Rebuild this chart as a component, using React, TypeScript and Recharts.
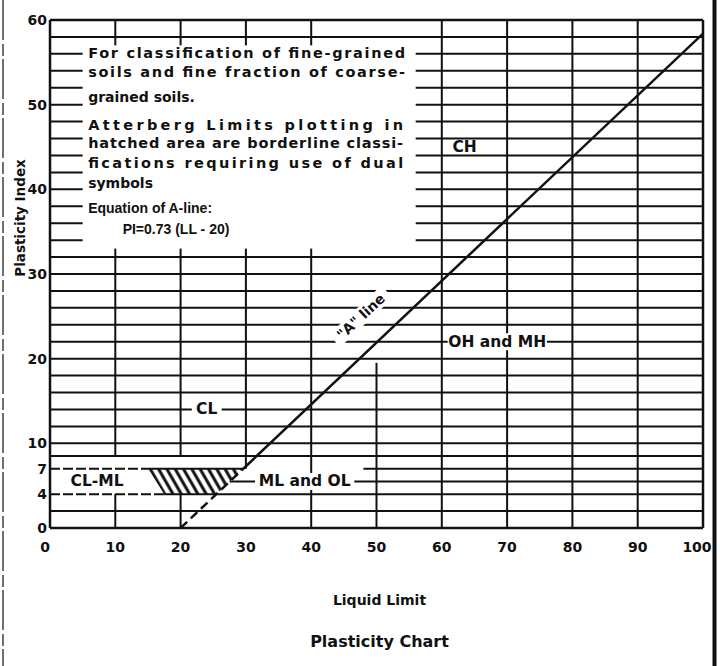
import React from 'react';
import {
  ComposedChart,
  XAxis,
  YAxis,
  Line,
  Area,
  ReferenceLine,
  ReferenceArea,
  ReferenceDot,
} from 'recharts';

const llTicks = [0, 10, 20, 30, 40, 50, 60, 70, 80, 90, 100];
const piTicks = [0, 4, 7, 10, 20, 30, 40, 50, 60];

// A-line: PI = 0.73 (LL - 20)
const aLineDashed = [
  { ll: 20, pi: 0 },
  { ll: 29.6, pi: 7 },
];
const aLineSolid = [
  { ll: 29.6, pi: 7 },
  { ll: 100, pi: 58.4 },
];

// hatched CL-ML borderline zone
const hatchZone = [
  { ll: 15, band: [7, 7] },
  { ll: 17.5, band: [4, 7] },
  { ll: 25.5, band: [4, 7] },
  { ll: 29.6, band: [7, 7] },
];

// chart grid
const gridRows = [
  2, 8.5, 10, 12, 14, 16, 18, 20, 22, 24, 26, 28, 30, 32, 34, 36, 38, 40, 42, 44, 46, 48, 50,
  52, 54, 56, 58,
];
const dashedRows = [
  { pi: 4, from: 0, to: 17.5 },
  { pi: 7, from: 0, to: 15 },
];
const rowPieces = [
  { pi: 4, from: 17.5, to: 100 },
  { pi: 7, from: 15, to: 29.6 },
  { pi: 7, from: 48, to: 100 },
  { pi: 5.5, from: 27.5, to: 100 },
];
const colPieces = [
  { ll: 10, from: 0, to: 4 },
  { ll: 10, from: 8.5, to: 60 },
  { ll: 20, from: 0, to: 4 },
  { ll: 20, from: 8.5, to: 60 },
  { ll: 30, from: 7, to: 60 },
  { ll: 40, from: 0, to: 60 },
  { ll: 50, from: 0, to: 19.5 },
  { ll: 60, from: 0, to: 60 },
  { ll: 70, from: 0, to: 60 },
  { ll: 80, from: 0, to: 60 },
  { ll: 90, from: 0, to: 60 },
];
const frameRows = [0, 60];
const frameCols = [0, 100];

const zoneLabels = [
  { name: 'CH', ll: 63.5, pi: 45 },
  { name: 'OH and MH', ll: 68.5, pi: 22 },
  { name: 'CL', ll: 24, pi: 14 },
  { name: 'ML and OL', ll: 39, pi: 5.5 },
  { name: 'CL-ML', ll: 7.2, pi: 5.5 },
];
const aLineLabel = { name: '"A" line', ll: 47.6, pi: 25 };

const noteBox = { llFrom: 5, llTo: 56, piFrom: 33, piTo: 57 };
const noteLines = [
  'For classification of fine-grained',
  'soils and fine fraction of coarse-',
  'grained soils.',
  'Atterberg Limits plotting in',
  'hatched area are borderline classi-',
  'fications requiring use of dual',
  'symbols',
  'Equation of A-line:',
  'PI=0.73 (LL - 20)',
];

const INK = '#111';
const BOLD = { fontFamily: '"DejaVu Sans", sans-serif', fontWeight: 700 };
const ARIAL = { fontFamily: '"Liberation Sans", Arial, sans-serif', fontWeight: 700 };

const XTick = ({ x, y, payload }: any) => (
  <text x={payload.value === 100 ? x - 6 : payload.value === 0 ? x - 5 : x} y={y + 24}
    textAnchor="middle" fontSize={14} fill={INK} style={BOLD}>
    {payload.value}
  </text>
);

const YTick = ({ x, y, payload }: any) => (
  <text x={x} y={y + 5} textAnchor="end" fontSize={14} fill={INK} style={BOLD}>
    {payload.value}
  </text>
);

const YTitle = ({ viewBox }: any) => {
  const cx = viewBox.x + 20;
  const cy = viewBox.y + 198;
  return (
    <text x={cx} y={cy} transform={`rotate(-90 ${cx} ${cy})`} textAnchor="middle"
      dominantBaseline="central" fontSize={13.5} fill={INK} style={BOLD}>
      Plasticity Index
    </text>
  );
};

const XTitle = ({ viewBox }: any) => {
  const cx = viewBox.x + viewBox.width / 2 + 3;
  return (
    <g>
      <text x={cx} y={viewBox.y + 77} textAnchor="middle" fontSize={14} fill={INK} style={BOLD}>
        Liquid Limit
      </text>
      <text x={cx} y={viewBox.y + 119} textAnchor="middle" fontSize={16} fill={INK} style={BOLD}>
        Plasticity Chart
      </text>
    </g>
  );
};

// offsets of the note lines inside the white box
const noteBaselines = [12.6, 31.6, 56.6, 84.6, 102.6, 122.6, 142.6, 167.6, 188.6];
const noteJustify: Record<number, number> = { 0: 317, 1: 317, 3: 315, 4: 315, 5: 315 };

const NoteBox = ({ x, y, width, height }: any) => (
  <g>
    <rect x={x} y={y} width={width} height={height} fill="#fff" />
    {noteLines.map((line, i) => {
      const isEq = i >= 7;
      const just = noteJustify[i];
      return (
        <text
          key={i}
          x={x + (i === 8 ? 40 : 5.5)}
          y={y + noteBaselines[i]}
          fontSize={just ? 14.5 : 14}
          fill={INK}
          style={isEq ? ARIAL : BOLD}
          textLength={just}
          lengthAdjust={just ? 'spacing' : undefined}
        >
          {line}
        </text>
      );
    })}
  </g>
);

const ZoneTag = ({ cx, cy, name, plain, angle }: any) => {
  const size = angle ? 14 : 15.5;
  const w = angle ? 72 : name.length * 0.64 * size + 10;
  return (
    <g transform={angle ? `rotate(${angle} ${cx} ${cy})` : undefined}>
      {!plain && <rect x={cx - w / 2} y={cy - 8.5} width={w} height={17} fill="#fff" />}
      <text x={cx} y={cy + 5} textAnchor="middle" fontSize={size} fill={INK} style={BOLD}>
        {name}
      </text>
    </g>
  );
};

export default function App() {
  return (
    <div style={{ position: 'absolute', left: 0, top: 0, width: 720, height: 666, background: '#fff', overflow: 'hidden' }}>
      <svg width={720} height={666} style={{ position: 'absolute', left: 0, top: 0 }}>
        <defs>
          <pattern id="hatch" width={7.2} height={12} patternUnits="userSpaceOnUse" patternTransform="rotate(-30)">
            <line x1={3.6} y1={0} x2={3.6} y2={12} stroke={INK} strokeWidth={3} />
          </pattern>
        </defs>
        <line x1={714.5} y1={0} x2={714.5} y2={666} stroke={INK} strokeWidth={4} />
        <line x1={3} y1={0} x2={3} y2={666} stroke={INK} strokeWidth={1.2} strokeDasharray="40 4 12 3" />
      </svg>
      <div style={{ position: 'absolute', left: 0, top: 0 }}>
        <ComposedChart width={720} height={666} margin={{ top: 20, right: 17, bottom: 108, left: 0 }}>
          <XAxis
            dataKey="ll"
            type="number"
            domain={[0, 100]}
            ticks={llTicks}
            allowDataOverflow
            axisLine={false}
            tickLine={false}
            tickSize={0}
            tickMargin={0}
            height={30}
            tick={<XTick />}
            label={<XTitle />}
          />
          <YAxis
            dataKey="pi"
            type="number"
            domain={[0, 60]}
            ticks={piTicks}
            allowDataOverflow
            axisLine={false}
            tickLine={false}
            tickSize={0}
            tickMargin={3}
            width={50}
            interval={0}
            tick={<YTick />}
            label={<YTitle />}
          />

          {gridRows.map((pi) => (
            <ReferenceLine key={`r${pi}`} y={pi} stroke={INK} strokeWidth={2} zIndex={10} />
          ))}
          {dashedRows.map((r, i) => (
            <ReferenceLine key={`d${i}`} segment={[{ x: r.from, y: r.pi }, { x: r.to, y: r.pi }]}
              stroke={INK} strokeWidth={2} strokeDasharray="10 3" zIndex={10} />
          ))}
          {rowPieces.map((r, i) => (
            <ReferenceLine key={`p${i}`} segment={[{ x: r.from, y: r.pi }, { x: r.to, y: r.pi }]}
              stroke={INK} strokeWidth={2} zIndex={10} />
          ))}
          {colPieces.map((c, i) => (
            <ReferenceLine key={`c${i}`} segment={[{ x: c.ll, y: c.from }, { x: c.ll, y: c.to }]}
              stroke={INK} strokeWidth={2} zIndex={10} />
          ))}
          {frameRows.map((pi) => (
            <ReferenceLine key={`fr${pi}`} y={pi} stroke={INK} strokeWidth={2.5} zIndex={10} />
          ))}
          {frameCols.map((ll) => (
            <ReferenceLine key={`fc${ll}`} x={ll} stroke={INK} strokeWidth={2.5} zIndex={10} />
          ))}

          <Area data={hatchZone} dataKey="band" type="linear" stroke="none" fill="url(#hatch)"
            fillOpacity={1} isAnimationActive={false} zIndex={20} />

          <ReferenceArea x1={noteBox.llFrom} x2={noteBox.llTo} y1={noteBox.piFrom} y2={noteBox.piTo}
            shape={(p: any) => <NoteBox {...p} />} zIndex={40} />

          {zoneLabels.map((z) => (
            <ReferenceDot key={z.name} x={z.ll} y={z.pi} r={1} zIndex={50}
              shape={(p: any) => <ZoneTag cx={p.cx} cy={p.cy} name={z.name} plain={z.name === 'CH'} />} />
          ))}
          <ReferenceDot x={aLineLabel.ll} y={aLineLabel.pi} r={1} zIndex={50}
            shape={(p: any) => <ZoneTag cx={p.cx} cy={p.cy} name={aLineLabel.name} angle={-43} />} />

          <Line data={aLineDashed} dataKey="pi" type="linear" stroke={INK} strokeWidth={2.5}
            strokeDasharray="9 5" dot={false} activeDot={false} isAnimationActive={false} zIndex={60} />
          <Line data={aLineSolid} dataKey="pi" type="linear" stroke={INK} strokeWidth={2.5}
            dot={false} activeDot={false} isAnimationActive={false} zIndex={60} />
        </ComposedChart>
      </div>
    </div>
  );
}
